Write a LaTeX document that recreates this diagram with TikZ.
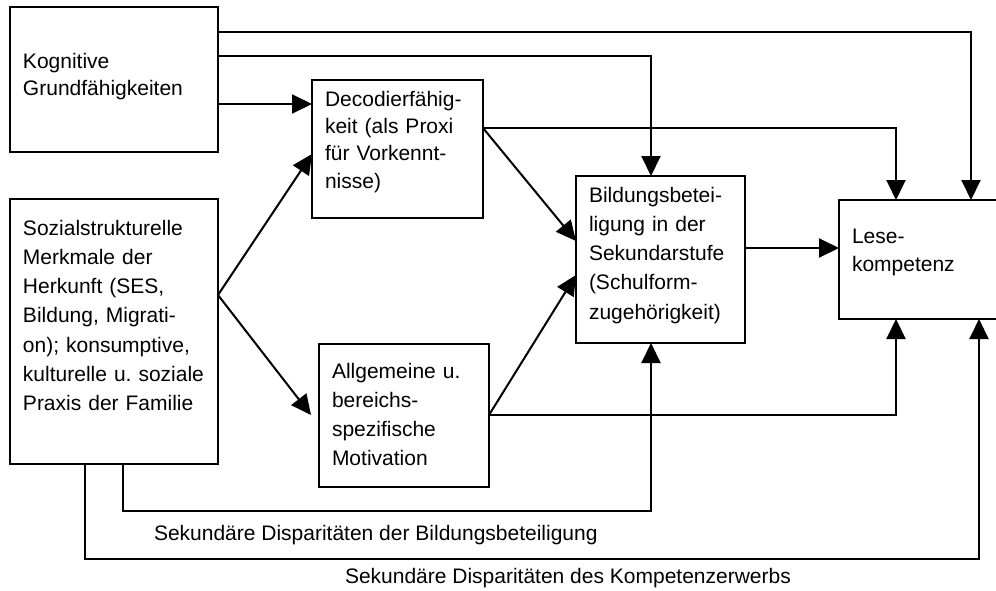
\documentclass[tikz,border=0pt]{standalone}
\usepackage{fontspec}
\setmainfont{Liberation Sans}
\usetikzlibrary{arrows.meta,calc}

\begin{document}
\begin{tikzpicture}
      [x=1pt,y=-1pt,line width=2pt,
       box/.style={draw,anchor=north west,align=left,inner xsep=13pt,inner ysep=0pt,outer sep=0pt,font=\fontsize{21}{29.3}\selectfont},
       arr/.style={-{Triangle[length=20pt,width=19pt]}},
       lbl/.style={anchor=base west,inner sep=0pt,font=\fontsize{21}{25}\selectfont}]
        \clip (0,0) rectangle (996,590);

        \node[box,text width=182pt,text height=61pt,text depth=84pt,font=\fontsize{21}{27}\selectfont] (kog) at (10,7) {Kognitive\\Grundfähigkeiten};
        \node[box,text width=182pt,text height=36pt,text depth=229pt] (soz) at (10,199) {Sozialstrukturelle\\Merkmale der\\Herkunft (SES,\\Bildung, Migrati-\\on); konsumptive,\\\mbox{kulturelle u.\ soziale}\\Praxis der Familie};
        \node[box,text width=145pt,text height=26pt,text depth=112pt,font=\fontsize{21}{27.4}\selectfont] (dec) at (312,80) {Decodierfähig-\\keit (als Proxi\\für Vorkennt-\\nisse)};
        \node[box,text width=144pt,text height=34pt,text depth=109pt] (allg) at (319,344) {Allgemeine u.\\bereichs-\\spezifische\\Motivation};
        \node[box,text width=143pt,text height=26pt,text depth=141pt] (bild) at (576,176) {Bildungsbetei-\\ligung in der\\Sekundarstufe\\(Schulform-\\zugehörigkeit)};
        \node[box,text width=140pt,text height=43pt,text depth=76pt,font=\fontsize{21}{28.3}\selectfont] (lese) at (839,200) {Lese-\\kompetenz};

        \node[lbl] (lbl1) at (153,540) {Sekundäre Disparitäten der Bildungsbeteiligung};
        \node[lbl] (lbl2) at (344,583) {Sekundäre Disparitäten des Kompetenzerwerbs};

        \coordinate (fork) at (soz.east |- 0,295);

        \draw[arr] (kog.east |- 0,104) -- (dec.west |- 0,104);
        \draw[arr] (kog.east |- 0,32) -| (971,0 |- lese.north);
        \draw[arr] (kog.east |- 0,56) -| (651,0 |- bild.north);
        \draw[arr] (dec.east |- 0,128) -| (896,0 |- lese.north);
        \draw[arr] (dec.east |- 0,128) -- (bild.west |- 0,241);
        \draw[arr] (fork) -- (dec.west |- 0,154);
        \draw[arr] (fork) -- ($(allg.west |- 0,415)+(-8,0)$);
        \draw[arr] (allg.east |- 0,415) -- (bild.west |- 0,275);
        \draw[arr] (allg.east |- 0,415) -| (896,0 |- lese.south);
        \draw[arr] (bild.east |- 0,248) -- (lese.west |- 0,248);
        \draw[arr] (123,0 |- soz.south) |- (651,511) -- (651,0 |- bild.south);
        \draw[arr] (85,0 |- soz.south) |- (979,559) -- (979,0 |- lese.south);

      \end{tikzpicture}
\end{document}
